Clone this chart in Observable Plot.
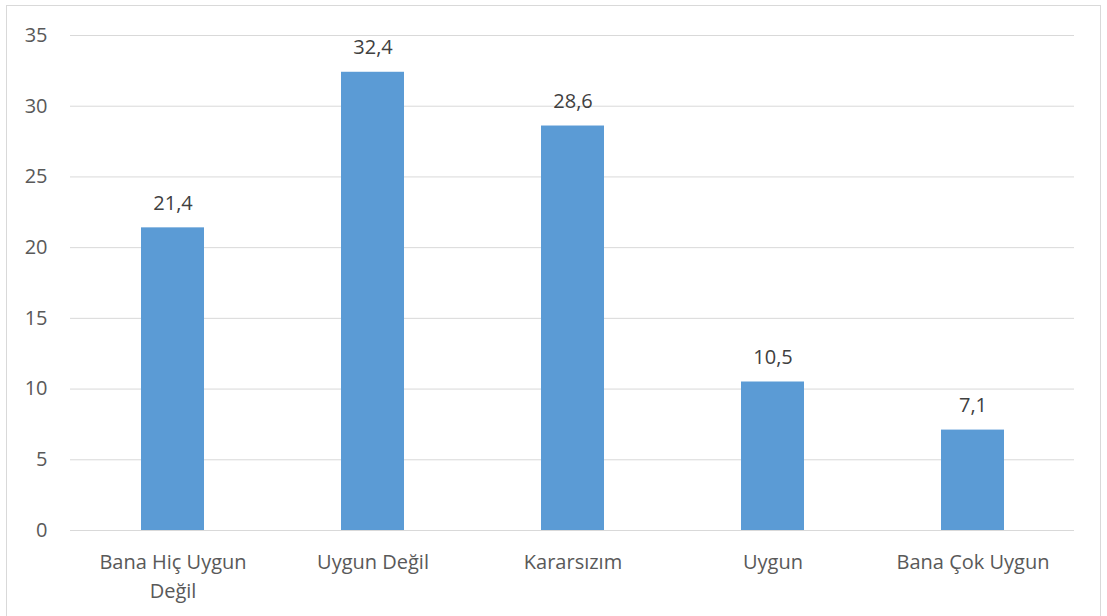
<!DOCTYPE html>
<html><head><meta charset="utf-8">
<script src="https://cdn.jsdelivr.net/npm/d3@7"></script>
<script src="https://cdn.jsdelivr.net/npm/@observablehq/plot@0.6"></script>
<style>
html,body{margin:0;padding:0;background:#fff;}
#wrap{position:relative;width:1107px;height:616px;overflow:hidden;}
#frame{position:absolute;left:6px;top:5px;width:1095px;height:640px;border:1px solid #d9d9d9;box-sizing:border-box;}
#chart{position:absolute;left:0;top:0;}
</style></head>
<body><div id="wrap"><div id="frame"></div><div id="chart"></div></div>
<script>
const categories = ["Bana Hiç Uygun Değil", "Uygun Değil", "Kararsızım", "Uygun", "Bana Çok Uygun"];
const tickLabels = ["Bana Hiç Uygun\nDeğil", "Uygun Değil", "Kararsızım", "Uygun", "Bana Çok Uygun"];
const values = [21.4, 32.4, 28.6, 10.5, 7.1];
const yTicks = [0, 5, 10, 15, 20, 25, 30, 35];

const data = categories.map((c, i) => ({cat: c, value: values[i]}));
const fmt = v => String(v).replace(".", ",");

const chart = Plot.plot({
  width: 1107,
  height: 616,
  marginLeft: 70,
  marginRight: 33,
  marginTop: 35,
  marginBottom: 86,
  style: {fontFamily: "'Open Sans', sans-serif", fontSize: "20px", color: "#595959", background: "transparent"},
  x: {domain: categories, paddingInner: 0.686, paddingOuter: 0.343, label: null},
  y: {domain: [0, 35], label: null},
  marks: [
    Plot.gridY(yTicks, {stroke: "#d9d9d9", strokeOpacity: 1, strokeWidth: 1}),
    Plot.axisY(yTicks, {tickSize: 0, tickPadding: 23, fontSize: 20, fill: "#595959", label: null}),
    Plot.axisX({tickSize: 0, tickPadding: 18, fontSize: 20, fill: "#595959", lineHeight: 1.45, label: null,
      tickFormat: d => tickLabels[categories.indexOf(d)]}),
    Plot.barY(data, {x: "cat", y: "value", fill: "#5b9bd5"}),
    Plot.text(data, {x: "cat", y: "value", text: d => fmt(d.value), dy: -18, lineAnchor: "bottom", fill: "#404040", fontSize: 20})
  ]
});
document.getElementById("chart").appendChild(chart);
</script></body></html>
